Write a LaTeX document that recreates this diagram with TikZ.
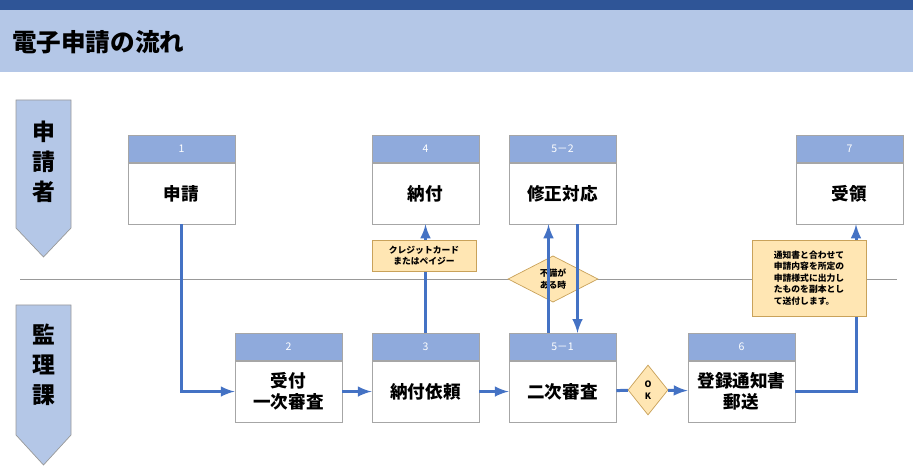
\documentclass[tikz,border=0pt]{standalone}
\usepackage{fontspec}
\setmainfont{Noto Sans CJK JP}
\usetikzlibrary{shapes.geometric,positioning}
\definecolor{dkblue}{HTML}{2F5597}
\definecolor{ltblue}{HTML}{B4C7E7}
\definecolor{hdblue}{HTML}{8FAADC}
\definecolor{flow}{HTML}{4472C4}
\definecolor{note}{HTML}{FFE6B3}
\definecolor{noteline}{HTML}{C9A25A}
\tikzset{
  head/.style={draw=gray!70, fill=hdblue, minimum width=2.14cm, minimum height=0.54cm, inner sep=0pt, text=white, font=\fontsize{6}{7}\selectfont},
  body/.style={draw=gray!70, fill=white, minimum width=2.14cm, minimum height=1.22cm, inner sep=0pt, align=center, font=\bfseries\fontsize{10}{12}\selectfont},
  note/.style={draw=noteline, fill=note, inner sep=0pt, align=center, font=\bfseries\fontsize{5}{6.5}\selectfont},
  cond/.style={diamond, draw=noteline, fill=note, inner sep=0pt, align=center, font=\bfseries\fontsize{5}{6.5}\selectfont},
  flowline/.style={flow, line width=1.7pt, -latex},
  flowseg/.style={flow, line width=1.7pt}
}
\begin{document}
\begin{tikzpicture}[x=0.02cm,y=-0.02cm]
\useasboundingbox (0,0) rectangle (913,472);
% banner
\fill [ltblue] (0,10) rectangle (913,72);
\fill [dkblue] (0,0) rectangle (913,10);
\node [anchor=west, font=\bfseries\fontsize{14}{16}\selectfont] (title) at (6,42) {電子申請の流れ};
% lanes
\draw [draw=gray!80, fill=ltblue] (16,100) -- (71,100) -- (71,228) -- (43.5,257) -- (16,228) -- cycle;
\node [align=center, font=\bfseries\fontsize{13}{17}\selectfont] (lane1) at (43.5,162) {申\\請\\者};
\draw [draw=gray!80, fill=ltblue] (16,305) -- (71,305) -- (71,435) -- (43.5,465) -- (16,435) -- cycle;
\node [align=center, font=\bfseries\fontsize{13}{17}\selectfont] (lane2) at (43.5,365) {監\\理\\課};
\draw [gray!80] (20,279) -- (897,279);
% steps
\foreach \name/\x/\y/\num/\txt in {s1/181.5/135/1/申請, s4/425.5/135/4/納付, s52/562.5/135/5－2/修正対応, s7/849.5/135/7/受領,
  s2/288.5/333/2/{受付\\一次審査}, s3/425.5/333/3/納付依頼, s51/562.5/333/5－1/二次審査, s6/741.5/333/6/{登録通知書\\郵送}} {
  \node [head, anchor=north] (\name h) at (\x,\y) {\num};
  \node [body, anchor=north] (\name) at (\name h.south) {\txt};
}
\coordinate (up) at (856,0);
% connectors
\draw [flowline] (s1.south) |- (s2.west);
\draw [flowline] (s2) -- (s3);
\draw [flowline] (s3) -- (s51);
\draw [flowline] (s3h.north) -- (s4.south);
\node [cond, minimum width=1.8cm, minimum height=0.92cm] (defect) at (553,279) {不備が\\ある時};
\draw [flowline] ([xshift=-0.28cm]s51h.north) -- ([xshift=-0.28cm]s52.south);
\draw [flowline] ([xshift=0.3cm]s52.south) -- ([xshift=0.3cm]s51h.north);
\node [cond, minimum width=0.8cm, minimum height=1.0cm] (ok) at (648,390) {O\\K};
\draw [flowseg] (s51) -- (ok);
\draw [flowline] (ok) -- (s6);
\draw [flowline] (s6.east) -| (s7.south -| up);
% notes
\node [note, minimum width=2.08cm, minimum height=0.62cm] (card) at (424,255.5) {クレジットカード\\またはペイジー};
\node [note, minimum width=2.28cm, minimum height=1.52cm, align=left] (copy) at (809,278) {通知書と合わせて\\申請内容を所定の\\申請様式に出力し\\たものを副本とし\\て送付します。};
\end{tikzpicture}
\end{document}
